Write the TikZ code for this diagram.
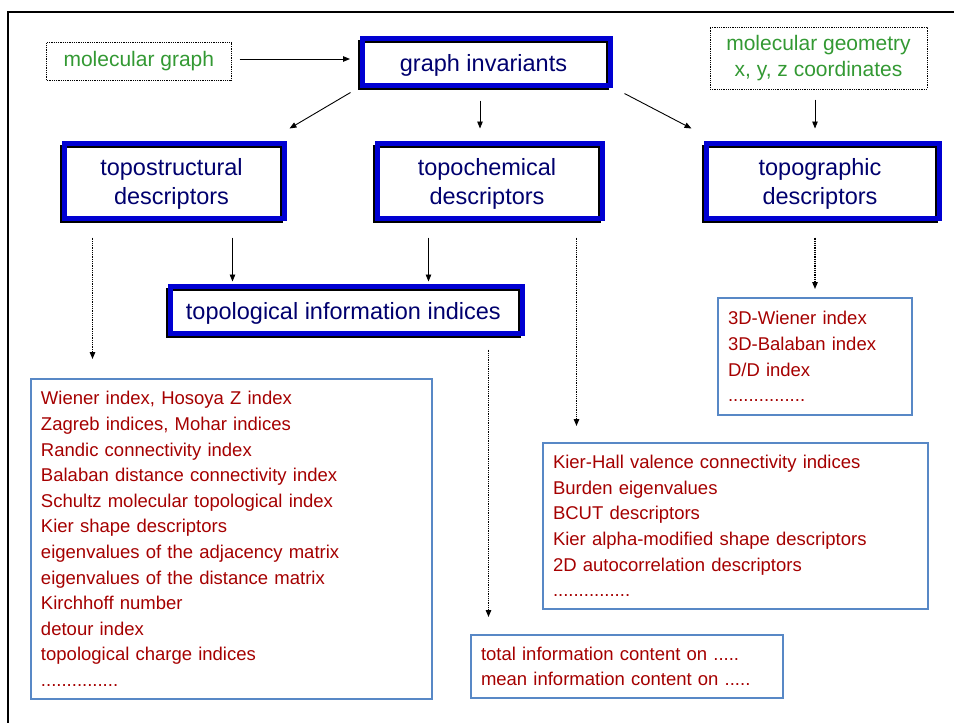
\documentclass[tikz,border=0pt]{standalone}
\usepackage{fontspec}
\setmainfont{Liberation Sans}
\usetikzlibrary{arrows.meta,calc}
\definecolor{navytxt}{RGB}{0,0,110}
\definecolor{frameblue}{RGB}{0,0,210}
\definecolor{listblue}{RGB}{88,136,198}
\definecolor{itemred}{RGB}{165,0,0}
\definecolor{geogreen}{RGB}{51,153,51}
\begin{document}
\begin{tikzpicture}[x=1pt,y=-1pt,
  tdbox/.style={draw=black, line width=3pt, fill=white, rectangle, inner sep=0pt,
    text=navytxt, font=\fontsize{23.5}{28.5}\selectfont, align=center,
    postaction={draw=frameblue, line width=5pt, transform canvas={shift={(3pt,3pt)}}}},
  srcbox/.style={draw=black, line width=1pt, dash pattern=on 1pt off 0.8pt, rectangle,
    inner sep=0pt, text=geogreen, font=\fontsize{21}{25}\selectfont, align=center},
  listbox/.style={draw=listblue, line width=2pt, rectangle, inner xsep=10pt, inner ysep=0pt,
    text=itemred, font=\fontsize{18.5}{25.6}\selectfont, align=left},
  arr/.style={line width=0.9pt, -{Triangle[length=7pt,width=5.5pt]}},
  darr/.style={arr, line width=1.2pt, dash pattern=on 1pt off 0.8pt}
]
\useasboundingbox (0,0) rectangle (954,723);
\clip (0,0) rectangle (954,723);
\draw[line width=2pt] (8,12) rectangle (1000,800);

% source boxes
\node[srcbox, minimum width=184.3pt, minimum height=37.6pt] (mg) at (138.85,61.5) {molecular graph};
\node[srcbox, minimum width=217pt, minimum height=62pt] (mgeo) at (818.5,58) {\raisebox{-2.5pt}{\shortstack{molecular geometry\\[3.6pt]x, y, z coordinates}}};

% 3D title boxes
\node[tdbox, minimum width=248pt, minimum height=47pt] (gi) at (483.5,65) {graph invariants};
\node[tdbox, minimum width=220pt, minimum height=74.5pt] (ts) at (171.5,183.75) {topostructural\\descriptors};
\node[tdbox, minimum width=225pt, minimum height=74.5pt] (tc) at (487,183.75) {topochemical\\descriptors};
\node[tdbox, minimum width=233pt, minimum height=74.5pt] (tg) at (820,183.75) {topographic\\descriptors};
\node[tdbox, minimum width=352.3pt, minimum height=46.7pt] (ti) at (343.35,313.15) {topological information indices};

% list boxes
\node[listbox, text width=381pt, minimum height=320pt] (L1) at (231.5,539) {Wiener index, Hosoya Z index\\
Zagreb indices, Mohar indices\\
Randic connectivity index\\
Balaban distance connectivity index\\
Schultz molecular topological index\\
Kier shape descriptors\\
eigenvalues of the adjacency matrix\\
eigenvalues of the distance matrix\\
Kirchhoff number\\
detour index\\
topological charge indices\\
...............};
\node[listbox, text width=174pt, minimum height=117pt] (L2) at (815,356.5) {3D-Wiener index\\
3D-Balaban index\\
D/D index\\
...............};
\node[listbox, text width=365pt, minimum height=166pt] (L3) at (735.5,526) {Kier-Hall valence connectivity indices\\
Burden eigenvalues\\
BCUT descriptors\\
Kier alpha-modified shape descriptors\\
2D autocorrelation descriptors\\
...............};
\node[listbox, text width=292pt, minimum height=63pt] (L4) at (627,666.5) {total information content on .....\\
mean information content on .....};

% connector start points
\coordinate (s3) at ([shift={(-3.5pt,-10.5pt)}]gi.south);
\coordinate (s5) at ([shift={(-3.5pt,-10pt)}]mgeo.south);
\coordinate (s6) at ([shift={(-50.5pt,-15pt)}]ts.south east);
\coordinate (s7) at ([shift={(55.5pt,-15pt)}]tc.south west);
\coordinate (s8) at ([shift={(32.5pt,-15pt)}]ts.south west);
\coordinate (s9) at ([shift={(-24.5pt,-15pt)}]tc.south east);
\coordinate (s10) at ([shift={(-5pt,-15pt)}]tg.south);
\coordinate (s11) at ([shift={(-32.5pt,-11.5pt)}]ti.south east);

% connectors
\draw[arr, shorten <=8pt, shorten >=8pt] ([yshift=2.5pt]mg.east) -- ([yshift=2.5pt]mg.east -| gi.west);
\draw[arr] ([shift={(-7.5pt,-2.5pt)}]gi.south west) -- ([shift={(6.5pt,16.5pt)}]ts.north east);
\draw[arr] (s3) -- ($(s3 |- tc.north)+(0,16.5pt)$);
\draw[arr] ([shift={(15.5pt,-3.5pt)}]gi.south east) -- ([shift={(-10.5pt,16.5pt)}]tg.north west);
\draw[arr] (s5) -- ($(s5 |- tg.north)+(0,16.5pt)$);
\draw[arr] (s6) -- ($(s6 |- ti.north)+(0,6.8pt)$);
\draw[arr] (s7) -- ($(s7 |- ti.north)+(0,6.8pt)$);
\draw[darr] (s8) -- ($(s8 |- L1.north)+(0,19pt)$);
\draw[darr] (s9) -- ($(s9 |- L3.north)+(0,16pt)$);
\draw[darr] (s10) -- ($(s10 |- L2.north)+(0,8pt)$);
\draw[darr] (s11) -- ($(s11 |- L4.north)+(0,17pt)$);
\end{tikzpicture}
\end{document}
